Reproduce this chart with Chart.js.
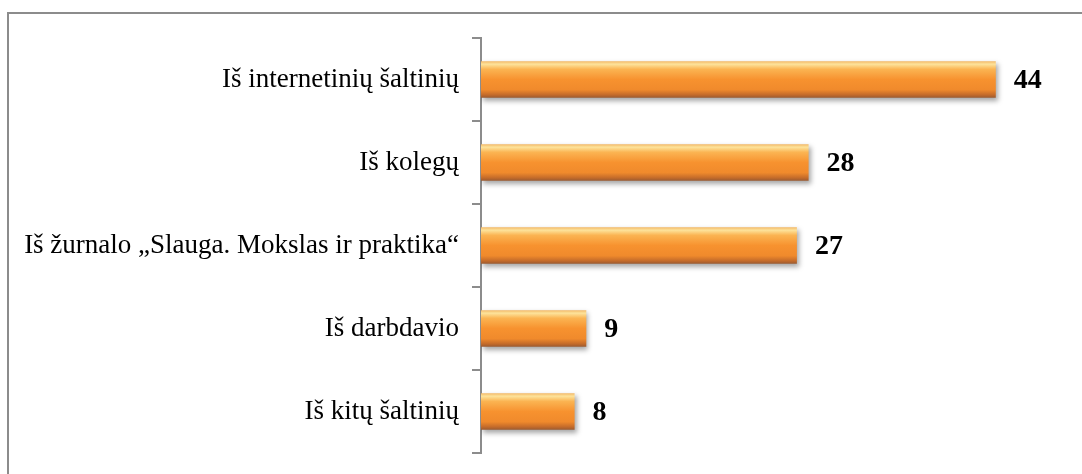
<!DOCTYPE html>
<html>
<head>
<meta charset="utf-8">
<script src="https://cdn.jsdelivr.net/npm/chart.js@4/dist/chart.umd.min.js"></script>
<style>
  html, body { margin: 0; padding: 0; background: #fff; overflow: hidden; }
  #wrap { position: relative; width: 1082px; height: 474px; }
</style>
</head>
<body>
<div id="wrap"><canvas id="barChart" width="1082" height="474"></canvas></div>
<script>
// ── Data ──
const categories = [
  "Iš internetinių šaltinių",
  "Iš kolegų",
  "Iš žurnalo „Slauga. Mokslas ir praktika“",
  "Iš darbdavio",
  "Iš kitų šaltinių"
];
const counts = [44, 28, 27, 9, 8];

const SERIF = "'Liberation Serif', 'Times New Roman', serif";

// ── Frame around chart ──
const framePlugin = {
  id: "frame",
  beforeDraw(chart) {
    const ctx = chart.ctx;
    ctx.save();
    ctx.strokeStyle = "#8c8c8c";
    ctx.lineWidth = 2;
    ctx.strokeRect(8, 13, 1200, 600);
    ctx.restore();
  }
};

// ── Orange gradient + shadow on bars ──
const barStylePlugin = {
  id: "barStyle",
  beforeDatasetDraw(chart) {
    const ctx = chart.ctx;
    chart.getDatasetMeta(0).data.forEach(bar => {
      const top = bar.y - bar.height / 2;
      const g = ctx.createLinearGradient(0, top, 0, top + bar.height);
      g.addColorStop(0, "#f3b866");
      g.addColorStop(0.08, "#fde39b");
      g.addColorStop(0.22, "#fbb452");
      g.addColorStop(0.5, "#f7922f");
      g.addColorStop(0.78, "#f08a2c");
      g.addColorStop(0.92, "#c46b2a");
      g.addColorStop(1, "#9a5a31");
      // options object is shared between bars, so give each its own copy
      bar.options = Object.assign({}, bar.options, { backgroundColor: g });
    });
    ctx.save();
    ctx.shadowColor = "rgba(0,0,0,0.35)";
    ctx.shadowBlur = 5;
    ctx.shadowOffsetX = 2;
    ctx.shadowOffsetY = 3;
  },
  afterDatasetDraw(chart) {
    chart.ctx.restore();
  }
};

// ── Value labels ──
const valueLabelPlugin = {
  id: "valueLabels",
  afterDatasetsDraw(chart) {
    const ctx = chart.ctx;
    ctx.save();
    ctx.font = "bold 28px " + SERIF;
    ctx.fillStyle = "#000";
    ctx.textAlign = "left";
    ctx.textBaseline = "middle";
    chart.getDatasetMeta(0).data.forEach((bar, i) => {
      ctx.fillText(String(counts[i]), bar.x + 18, bar.y + 1);
    });
    ctx.restore();
  }
};

new Chart(document.getElementById("barChart"), {
  type: "bar",
  data: {
    labels: categories,
    datasets: [{
      data: counts,
      backgroundColor: "#f7922f",
      borderWidth: 0,
      categoryPercentage: 1,
      barPercentage: 0.44
    }]
  },
  options: {
    indexAxis: "y",
    responsive: false,
    animation: false,
    layout: { padding: { top: 38, bottom: 21, right: 16, left: 0 } },
    plugins: { legend: { display: false }, tooltip: { enabled: false } },
    scales: {
      x: { display: false, min: 0, max: 50 },
      y: {
        afterFit(scale) {
          scale.width = 481;
          scale.paddingTop = 0;
          scale.paddingBottom = 0;
        },
        border: { display: true, color: "#8c8c8c", width: 2 },
        grid: {
          offset: true,
          drawOnChartArea: false,
          drawTicks: true,
          tickLength: 9,
          color: "#8c8c8c",
          lineWidth: 2
        },
        ticks: {
          color: "#000",
          padding: 13,
          font: { family: SERIF, size: 27 }
        }
      }
    }
  },
  plugins: [framePlugin, barStylePlugin, valueLabelPlugin]
});
</script>
</body>
</html>
